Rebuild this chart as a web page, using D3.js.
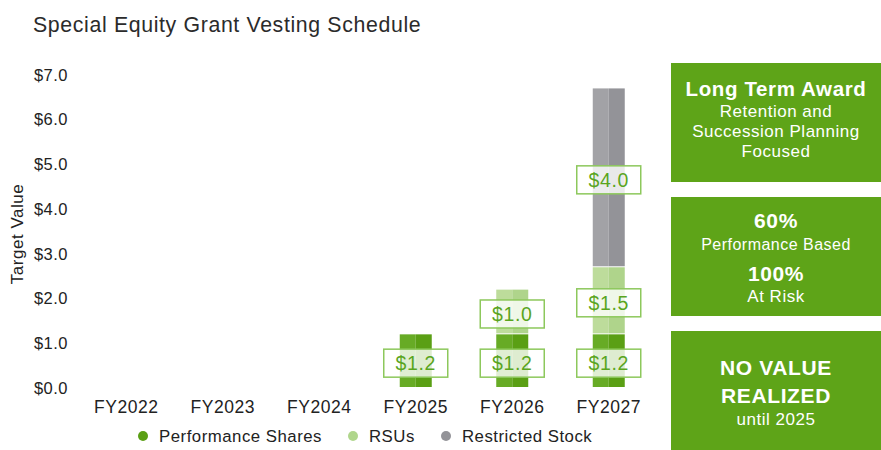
<!DOCTYPE html>
<html lang="en">
<head>
<meta charset="utf-8">
<title>Special Equity Grant Vesting Schedule</title>
<script src="https://cdn.jsdelivr.net/npm/d3@7"></script>
<style>
    body { margin: 0; background: #fff; }
    svg { display: block; }
    text { font-family: "Liberation Sans", Arial, Helvetica, sans-serif; letter-spacing: 0.03em; }
</style>
</head>
<body>
<svg width="881" height="450"></svg>
<script>
    // values ($M)
    const years = ["FY2022", "FY2023", "FY2024", "FY2025", "FY2026", "FY2027"]
    const performanceShares = [0, 0, 0, 1.2, 1.2, 1.2]
    const rsus = [0, 0, 0, 0, 1.0, 1.5]
    const restrictedStock = [0, 0, 0, 0, 0, 4.0]
    const yTicks = [0, 1, 2, 3, 4, 5, 6, 7]
    const seriesNames = ["Performance Shares", "RSUs", "Restricted Stock"]

    const seriesKeys = ["perf", "rsu", "rs"]
    const colors = {
        perf: ["#67ab25", "#5a9f14"],
        rsu:  ["#bddc9b", "#afd48b"],
        rs:   ["#a2a2a6", "#939398"]
    }
    const legendColors = ["#5a9f14", "#b0d68c", "#939398"]

    const rows = years.map((y, i) => ({
        year: y, perf: performanceShares[i], rsu: rsus[i], rs: restrictedStock[i]
    }))

    const svg = d3.select("svg")

    const x = d3.scaleBand().domain(years).range([78, 657]).padding(0)
    const y = d3.scaleLinear().domain([0, 7]).range([388, 75])
    const barW = 32

    // title
    svg.append("text")
        .attr("x", 33).attr("y", 32)
        .attr("font-size", 21.3)
        .attr("fill", "#2b2b2b")
        .text("Special Equity Grant Vesting Schedule")

    // y axis (labels only)
    const yAxis = svg.append("g")
        .attr("transform", "translate(70,0)")
        .call(d3.axisLeft(y).tickValues(yTicks).tickSize(0).tickPadding(2)
            .tickFormat(d => "$" + d3.format(".1f")(d)))
    yAxis.select(".domain").remove()
    yAxis.selectAll("text")
        .attr("font-size", 16.5)
        .attr("fill", "#222")
        .style("font-family", "'Liberation Sans', Arial, sans-serif")

    svg.append("text")
        .attr("transform", "translate(23,234) rotate(-90)")
        .attr("text-anchor", "middle")
        .attr("font-size", 17)
        .attr("fill", "#222")
        .text("Target Value")

    // x axis (labels only)
    const xAxis = svg.append("g")
        .attr("transform", "translate(0,398)")
        .call(d3.axisBottom(x).tickSize(0).tickPadding(0))
    xAxis.select(".domain").remove()
    xAxis.selectAll("text")
        .attr("font-size", 17.5)
        .attr("fill", "#222")
        .attr("dy", "0.85em")
        .style("font-family", "'Liberation Sans', Arial, sans-serif")

    // stacked bars
    const stack = d3.stack().keys(seriesKeys)(rows)

    const layers = svg.append("g").selectAll("g")
        .data(stack)
        .enter().append("g")

    layers.each(function(layer) {
        const g = d3.select(this)
        const pts = layer.filter(d => d[1] - d[0] > 0)
        // two-tone halves
        g.selectAll("rect.l").data(pts).enter().append("rect")
            .attr("x", d => x(d.data.year) + x.bandwidth() / 2 - barW / 2)
            .attr("y", d => y(d[1]))
            .attr("width", barW / 2)
            .attr("height", d => y(d[0]) - y(d[1]) - 1)
            .attr("fill", colors[layer.key][0])
        g.selectAll("rect.r").data(pts).enter().append("rect")
            .attr("x", d => x(d.data.year) + x.bandwidth() / 2)
            .attr("y", d => y(d[1]))
            .attr("width", barW / 2)
            .attr("height", d => y(d[0]) - y(d[1]) - 1)
            .attr("fill", colors[layer.key][1])
    })

    // value labels
    const labels = []
    stack.forEach(layer => layer.forEach(d => {
        if (d[1] - d[0] > 0) labels.push({ year: d.data.year, v: d[1] - d[0], mid: (d[0] + d[1]) / 2 })
    }))

    const lab = svg.append("g").selectAll("g")
        .data(labels)
        .enter().append("g")
        .attr("transform", d => "translate(" + (x(d.year) + x.bandwidth() / 2) + "," + (y(d.mid) + 2) + ")")
    lab.append("rect")
        .attr("x", -32).attr("y", -14)
        .attr("width", 64).attr("height", 28)
        .attr("fill", "#fff").attr("fill-opacity", 0.8)
        .attr("stroke", "#8dc85c").attr("stroke-width", 1.5)
    lab.append("text")
        .attr("text-anchor", "middle")
        .attr("dy", "0.36em")
        .attr("font-size", 19.5)
        .attr("fill", "#5aa51e")
        .text(d => "$" + d3.format(".1f")(d.v))

    // legend
    const legendX = [143, 353, 446]
    const leg = svg.append("g").selectAll("g")
        .data(seriesNames)
        .enter().append("g")
        .attr("transform", (d, i) => "translate(" + legendX[i] + ",436)")
    leg.append("circle").attr("r", 5).attr("fill", (d, i) => legendColors[i])
    leg.append("text")
        .attr("x", 16).attr("dy", "0.36em")
        .attr("font-size", 16.8)
        .attr("fill", "#222")
        .text(d => d)

    // right side panels
    const panels = [
        { y0: 63, y1: 182, lines: [
            { t: "Long Term Award", s: 20.5, b: true, y: 96 },
            { t: "Retention and", s: 17, y: 117 },
            { t: "Succession Planning", s: 17, y: 137 },
            { t: "Focused", s: 17, y: 157 }] },
        { y0: 197, y1: 316, lines: [
            { t: "60%", s: 21, b: true, y: 228 },
            { t: "Performance Based", s: 16, y: 250 },
            { t: "100%", s: 21, b: true, y: 281 },
            { t: "At Risk", s: 17, y: 302 }] },
        { y0: 331, y1: 450, lines: [
            { t: "NO VALUE", s: 21, b: true, y: 375 },
            { t: "REALIZED", s: 21, b: true, y: 403 },
            { t: "until 2025", s: 17, y: 425 }] }
    ]
    const pg = svg.append("g").selectAll("g")
        .data(panels)
        .enter().append("g")
    pg.append("rect")
        .attr("x", 671).attr("y", d => d.y0)
        .attr("width", 210).attr("height", d => d.y1 - d.y0)
        .attr("fill", "#5ea418")
    pg.selectAll("text")
        .data(d => d.lines)
        .enter().append("text")
        .attr("x", 776).attr("y", d => d.y)
        .attr("text-anchor", "middle")
        .attr("font-size", d => d.s)
        .attr("font-weight", d => d.b ? "bold" : "normal")
        .attr("fill", "#fff")
        .text(d => d.t)
</script>
</body>
</html>
